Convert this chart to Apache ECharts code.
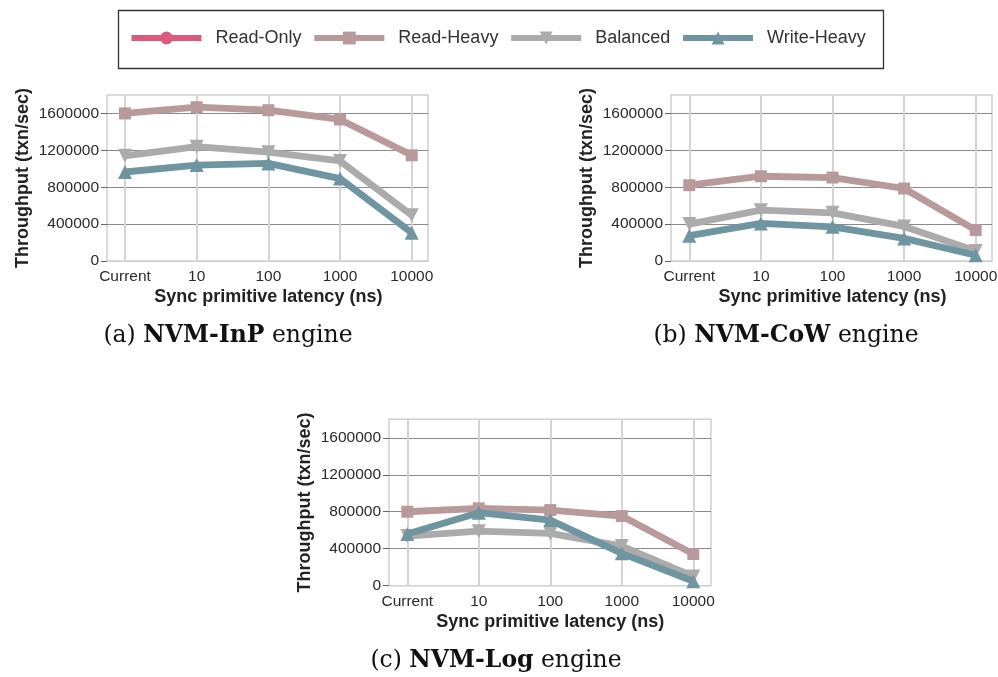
<!DOCTYPE html>
<html>
<head>
<meta charset="utf-8">
<script src="https://cdn.jsdelivr.net/npm/echarts@6/dist/echarts.min.js"></script>
<style>
html,body{margin:0;padding:0;background:#fff;}
#chart{width:998px;height:677px;}
</style>
</head>
<body>
<div id="chart"></div>
<script>
// ---- data ----
const categories = ['Current', '10', '100', '1000', '10000'];
const seriesNames = ['Read-Only', 'Read-Heavy', 'Balanced', 'Write-Heavy'];
const yTicks = [0, 400000, 800000, 1200000, 1600000];

const inpReadOnly = [];
const inpReadHeavy = [1600000, 1668000, 1635000, 1535000, 1146000];
const inpBalanced = [1140000, 1240000, 1180000, 1085000, 497000];
const inpWriteHeavy = [965000, 1040000, 1058000, 894000, 306000];

const cowReadOnly = [];
const cowReadHeavy = [822000, 919000, 905000, 786000, 335000];
const cowBalanced = [400000, 551000, 522000, 375000, 108000];
const cowWriteHeavy = [275000, 407000, 371000, 245000, 62000];

const logReadOnly = [];
const logReadHeavy = [800000, 837000, 818000, 753000, 343000];
const logBalanced = [537000, 590000, 566000, 429000, 100000];
const logWriteHeavy = [560000, 790000, 710000, 350000, 48000];

const captions = [
  ['(a) ', 'NVM-InP', ' engine'],
  ['(b) ', 'NVM-CoW', ' engine'],
  ['(c) ', 'NVM-Log', ' engine']
];

// ---- layout / style ----
const colors = ['#dc5a7b', '#b99a9c', '#ababab', '#6f95a1'];
const symbols = ['circle', 'rect', 'triangle', 'triangle'];
const symbolRot = [0, 0, 180, 0];
const symbolSizes = [12, 12, 14, 14];
const panels = [
  {L: 107, R: 428, T: 95, B: 261, C0: 125, C4: 411.7, cx: 228, cy: 336, data: [inpReadOnly, inpReadHeavy, inpBalanced, inpWriteHeavy]},
  {L: 671, R: 992, T: 95, B: 261, C0: 689.3, C4: 975.7, cx: 786, cy: 336, data: [cowReadOnly, cowReadHeavy, cowBalanced, cowWriteHeavy]},
  {L: 389, R: 711, T: 419.3, B: 585.7, C0: 407.3, C4: 693.3, cx: 496, cy: 661, data: [logReadOnly, logReadHeavy, logBalanced, logWriteHeavy]}
];
const sans = 'Liberation Sans';
const YMAX = 1800000;

const grid = [], xAxis = [], yAxis = [], series = [], graphic = [];
panels.forEach((p, i) => {
  const outer = grid.length;
  grid.push({left: p.L, top: p.T, width: p.R - p.L, height: p.B - p.T, outerBoundsMode: 'none',
    show: true, borderColor: '#cfcfcf', borderWidth: 1.5, backgroundColor: 'transparent'});
  grid.push({left: p.C0, top: p.T, width: p.C4 - p.C0, height: p.B - p.T, outerBoundsMode: 'none'});
  const inner = outer + 1;
  xAxis.push({gridIndex: outer, type: 'value', show: false, min: 0, max: 1});
  yAxis.push({gridIndex: outer, type: 'value', min: 0, max: YMAX, interval: 400000,
    name: 'Throughput (txn/sec)', nameLocation: 'middle', nameGap: 75,
    nameTextStyle: {fontFamily: sans, fontSize: 18, fontWeight: 'bold', color: '#222'},
    axisLine: {show: false},
    axisTick: {show: true, length: 6, lineStyle: {color: '#666', width: 1}, customValues: yTicks},
    axisLabel: {fontFamily: sans, fontSize: 15.5, color: '#2a2a2a', margin: 8, customValues: yTicks,
      formatter: v => String(Math.round(v))},
    splitLine: {show: true, lineStyle: {color: ['#cfcfcf', '#8a8a8a', '#8a8a8a', '#8a8a8a', '#8a8a8a', '#cfcfcf'], width: 1}}
  });
  xAxis.push({gridIndex: inner, type: 'category', data: categories, boundaryGap: false,
    name: 'Sync primitive latency (ns)', nameLocation: 'middle', nameGap: 27,
    nameTextStyle: {fontFamily: sans, fontSize: 18, fontWeight: 'bold', color: '#222'},
    axisLine: {show: false}, axisTick: {show: false},
    axisLabel: {fontFamily: sans, fontSize: 15.5, color: '#2a2a2a', margin: 8},
    splitLine: {show: true, lineStyle: {color: '#d4d4d4', width: 2}}
  });
  yAxis.push({gridIndex: inner, type: 'value', min: 0, max: YMAX, show: false, splitLine: {show: false}});
  seriesNames.forEach((name, k) => {
    series.push({
      name: name, type: 'line', xAxisIndex: inner, yAxisIndex: inner,
      data: p.data[k], symbol: symbols[k], symbolRotate: symbolRot[k], symbolSize: symbolSizes[k],
      color: colors[k], lineStyle: {width: 6.8, color: colors[k]}, itemStyle: {color: colors[k]},
      showAllSymbol: true, animation: false, z: 3 + k
    });
  });
  const c = captions[i];
  graphic.push({type: 'text', x: p.cx, y: p.cy,
    style: {text: '{n|' + c[0] + '}{b|' + c[1] + '}{n|' + c[2] + '}', align: 'center', verticalAlign: 'middle',
      rich: {
        n: {fontFamily: 'DejaVu Serif', fontSize: 23.5, fill: '#111', color: '#111'},
        b: {fontFamily: 'DejaVu Serif', fontSize: 23.5, fontWeight: 'bold', fill: '#111', color: '#111'}
      }}});
});
graphic.push({type: 'rect', shape: {x: 118.5, y: 10.5, width: 765, height: 58},
  style: {fill: 'none', stroke: '#333', lineWidth: 1.3}, z: 1});

const chart = echarts.init(document.getElementById('chart'), null, {renderer: 'canvas'});
chart.setOption({
  animation: false,
  backgroundColor: '#fff',
  legend: {
    data: seriesNames, left: 128.5, top: 29, padding: 0, itemGap: 9.8,
    itemWidth: 70, itemHeight: 16,
    lineStyle: {width: 6},
    textStyle: {fontFamily: sans, fontSize: 18, color: '#333', padding: [0, 0, 0, 9]}
  },
  grid: grid, xAxis: xAxis, yAxis: yAxis, series: series, graphic: graphic
});
</script>
</body>
</html>
